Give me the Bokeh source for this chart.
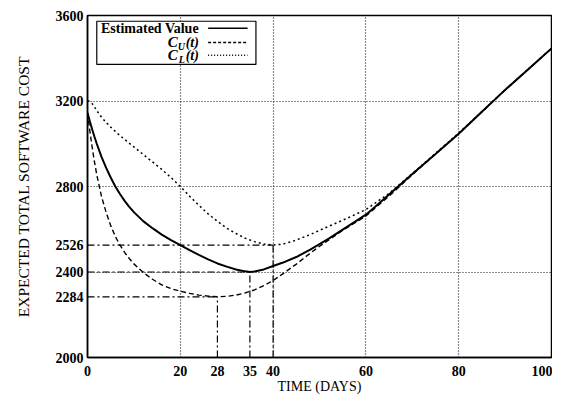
from bokeh.plotting import figure
from bokeh.models import FixedTicker, Range1d
from bokeh.core.properties import value
from bokeh.embed import file_html
from bokeh.resources import INLINE

# ---- data ----
t_est = [0, 0.5, 1, 1.5, 2, 3, 4, 5, 6, 7, 8, 9, 10, 12, 14, 16, 18, 20, 22, 24, 26, 28, 30, 32, 34,
         35, 36, 38, 40, 42, 45, 48, 50, 52, 55, 58, 60, 62, 65, 70, 75, 80, 85, 90, 95, 100]
est = [3145, 3105, 3068, 3033, 3000, 2940, 2888, 2842, 2800, 2765, 2733, 2705, 2680, 2638, 2605, 2575,
       2549, 2526, 2502, 2480, 2459, 2440, 2425, 2412, 2403, 2400, 2402, 2412, 2428, 2443, 2470, 2505,
       2530, 2556, 2598, 2640, 2668, 2705, 2762, 2858, 2952, 3047, 3150, 3252, 3349, 3446]

t_cu = [0, 0.5, 1, 1.5, 2, 3, 4, 5, 6, 7, 8, 9, 10, 12, 14, 16, 18, 20, 22, 24, 26, 28, 30, 32, 34,
        36, 38, 40, 42, 45, 48, 50, 52, 55, 58, 60, 62, 65, 68, 70, 75, 80, 85, 90, 95, 100]
cu = [3145, 3060, 2985, 2915, 2855, 2755, 2680, 2617, 2566, 2526, 2492, 2463, 2438, 2398, 2366, 2340,
      2322, 2310, 2300, 2292, 2287, 2284, 2286, 2292, 2302, 2316, 2336, 2360, 2390, 2437, 2488, 2520,
      2550, 2595, 2635, 2662, 2700, 2755, 2815, 2855, 2952, 3047, 3150, 3252, 3349, 3446]

t_cl = [0, 0.5, 1, 1.5, 2, 3, 4, 5, 7, 10, 12, 14, 16, 18, 20, 22, 24, 26, 28, 30, 32, 34, 36, 38, 40,
        42, 44, 46, 48, 50, 55, 60, 65, 70, 75, 80, 85, 90, 95, 100]
cl = [3200, 3198, 3188, 3172, 3155, 3125, 3100, 3078, 3038, 2985, 2950, 2915, 2880, 2842, 2800, 2755,
      2712, 2672, 2637, 2605, 2580, 2558, 2542, 2531, 2526, 2530, 2542, 2558, 2575, 2595, 2642, 2692,
      2768, 2860, 2955, 3050, 3150, 3252, 3349, 3446]

opt_t = [28, 35, 40]
opt_cost = [2284, 2400, 2526]

x_ticks = [0, 20, 28, 35, 40, 60, 80, 100]
y_ticks = [2000, 2284, 2400, 2526, 2800, 3200, 3600]
grid_x = [20, 40, 60, 80]
grid_y = [2400, 2800, 3200]

x_label = "TIME (DAYS)"
y_label = "EXPECTED TOTAL SOFTWARE COST"
legend_names = ["Estimated Value", "C", "U", "(t)", "C", "L", "(t)"]

FONT = "Liberation Serif"
x0, x1 = 0, 100
y0, y1 = 2000, 3600

p = figure(width=552, height=396, output_backend="svg", toolbar_location=None,
           x_range=Range1d(x0, x1), y_range=Range1d(y0, y1),
           min_border_left=87, min_border_right=1, min_border_top=15, min_border_bottom=39)

p.background_fill_color = "white"
p.border_fill_color = "white"
p.outline_line_color = "black"
p.outline_line_width = 1.5
p.outline_line_alpha = 1

for ax in (p.xaxis, p.yaxis):
    ax.axis_line_color = "black"
    ax.axis_line_width = 1.5
    ax.major_tick_in = 0
    ax.major_tick_out = 0
    ax.minor_tick_line_color = None
    ax.major_label_text_font = FONT
    ax.major_label_text_font_style = "bold"
    ax.major_label_text_font_size = "14px"
    ax.major_label_text_color = "black"
    ax.axis_label_text_font = FONT
    ax.axis_label_text_font_style = "normal"
    ax.axis_label_text_color = "black"

p.xaxis.axis_label_text_font_size = "14px"
p.yaxis.axis_label_text_font_size = "15.5px"
p.xaxis.ticker = FixedTicker(ticks=x_ticks)
p.yaxis.ticker = FixedTicker(ticks=y_ticks)
p.xaxis.major_label_standoff = 8
p.yaxis.major_label_standoff = 4
p.xaxis.axis_label = x_label
p.yaxis.axis_label = y_label
p.xaxis.axis_label_standoff = 0
p.yaxis.axis_label_standoff = 21

p.xgrid.ticker = FixedTicker(ticks=grid_x)
p.ygrid.ticker = FixedTicker(ticks=grid_y)
for g in (p.xgrid, p.ygrid):
    g.grid_line_color = "black"
    g.grid_line_dash = "1 2"
    g.grid_line_width = 1.2
    g.grid_line_alpha = 0.9

# optimal-point drop lines (dash-dot)
p.segment(x0=[x0] * len(opt_t), y0=opt_cost, x1=opt_t, y1=opt_cost,
          line_color="black", line_width=1.2, line_dash="7 3 2 3")
p.segment(x0=opt_t, y0=[y0] * len(opt_t), x1=opt_t, y1=opt_cost,
          line_color="black", line_width=1.2, line_dash="7 3 2 3")

# curves
p.line(t_cl, cl, line_color="black", line_width=1.5, line_dash="2 3")
p.line(t_cu, cu, line_color="black", line_width=1.4, line_dash="5 3")
p.line(t_est, est, line_color="black", line_width=2)

# legend box (drawn as glyphs so that it hides the grid)
p.quad(left=[2], right=[36.3], bottom=[3371], top=[3573],
       fill_color="white", line_color="black", line_width=1.2)

ly = [3540, 3474, 3414]
p.text(x=[24], y=[ly[0]], text=[legend_names[0]], text_align="right", text_baseline="middle",
       text_font=value(FONT), text_font_style="bold", text_font_size="14px", text_color="black")
for row, (c, s, par) in zip([1, 2], [legend_names[1:4], legend_names[4:7]]):
    p.text(x=[24], y=[ly[row]], text=[par], text_align="right", text_baseline="middle",
           text_font=value(FONT), text_font_style="bold italic", text_font_size="14px", text_color="black")
    p.text(x=[24], y=[ly[row]], text=[s], text_align="right", text_baseline="middle",
           x_offset=-14, y_offset=4,
           text_font=value(FONT), text_font_style="bold italic", text_font_size="10px", text_color="black")
    p.text(x=[24], y=[ly[row]], text=[c], text_align="right", text_baseline="middle",
           x_offset=-21,
           text_font=value(FONT), text_font_style="bold italic", text_font_size="15px", text_color="black")

p.line([26, 34.5], [ly[0], ly[0]], line_color="black", line_width=1.5)
p.line([26, 34.5], [ly[1], ly[1]], line_color="black", line_width=1.4, line_dash="3 2")
p.line([26, 34.5], [ly[2], ly[2]], line_color="black", line_width=1.4, line_dash="1 2")

open("out.html", "w").write(file_html(p, INLINE))
